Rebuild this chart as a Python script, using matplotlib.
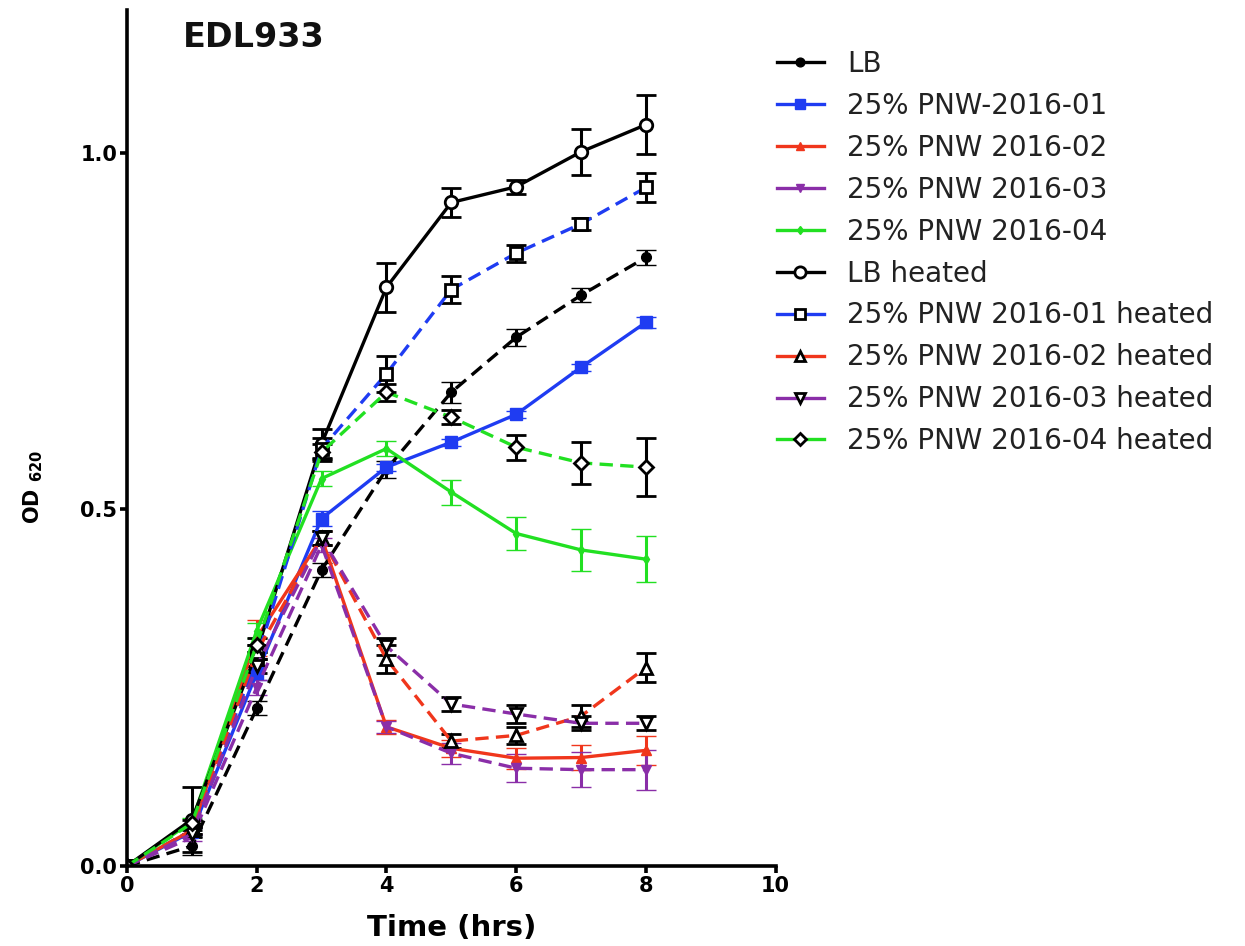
import matplotlib
matplotlib.use("Agg")
import matplotlib.pyplot as plt
from matplotlib.lines import Line2D

plt.rcParams['font.family'] = ['DejaVu Sans']

time_hrs = [0, 1, 2, 3, 4, 5, 6, 7, 8]

lb = [0, 0.028, 0.221, 0.415, 0.556, 0.664, 0.741, 0.800, 0.853]
lb_err = [0, 0.013, 0.01, 0.01, 0.012, 0.015, 0.012, 0.01, 0.01]
pnw01 = [0, 0.048, 0.270, 0.487, 0.559, 0.594, 0.633, 0.699, 0.762]
pnw01_err = [0, 0.005, 0.01, 0.01, 0.005, 0.005, 0.005, 0.005, 0.008]
pnw02 = [0, 0.05, 0.32, 0.46, 0.195, 0.165, 0.151, 0.152, 0.162]
pnw02_err = [0, 0.005, 0.025, 0.01, 0.01, 0.012, 0.015, 0.018, 0.02]
pnw03 = [0, 0.04, 0.25, 0.45, 0.195, 0.158, 0.137, 0.135, 0.135]
pnw03_err = [0, 0.005, 0.01, 0.01, 0.008, 0.015, 0.02, 0.025, 0.028]
pnw04 = [0, 0.062, 0.33, 0.543, 0.585, 0.524, 0.466, 0.443, 0.430]
pnw04_err = [0, 0.005, 0.01, 0.01, 0.01, 0.0175, 0.023, 0.030, 0.032]

lb_h = [0, 0.065, 0.30, 0.592, 0.811, 0.930, 0.952, 1.001, 1.039]
lb_h_err = [0, 0.045, 0.01, 0.02, 0.034, 0.02, 0.01, 0.032, 0.041]
pnw01_h = [0, 0.05, 0.29, 0.585, 0.69, 0.808, 0.859, 0.900, 0.951]
pnw01_h_err = [0, 0.005, 0.01, 0.015, 0.025, 0.019, 0.012, 0.008, 0.02]
pnw02_h = [0, 0.05, 0.30, 0.46, 0.29, 0.175, 0.183, 0.21, 0.278]
pnw02_h_err = [0, 0.005, 0.01, 0.01, 0.02, 0.01, 0.012, 0.015, 0.02]
pnw03_h = [0, 0.045, 0.28, 0.46, 0.308, 0.227, 0.213, 0.200, 0.200]
pnw03_h_err = [0, 0.005, 0.01, 0.01, 0.012, 0.01, 0.012, 0.01, 0.01]
pnw04_h = [0, 0.06, 0.31, 0.58, 0.664, 0.629, 0.587, 0.565, 0.559]
pnw04_h_err = [0, 0.005, 0.01, 0.012, 0.012, 0.01, 0.0175, 0.029, 0.041]

labels = ["LB", "25% PNW-2016-01", "25% PNW 2016-02", "25% PNW 2016-03",
          "25% PNW 2016-04", "LB heated", "25% PNW 2016-01 heated",
          "25% PNW 2016-02 heated", "25% PNW 2016-03 heated",
          "25% PNW 2016-04 heated"]

BLACK = "#000000"
BLUE = "#1f3cf2"
RED = "#f0361c"
PURPLE = "#8a2ea8"
GREEN = "#22e022"

fig = plt.figure(figsize=(12.45, 9.46), dpi=100)
ax = fig.add_axes([0.102, 0.0846, 0.521, 0.905])

lw = 2.4
cs = 7
ct = 2.2
DASH = (0, (4, 2.2))

series = [
    # values, err, color, linestyle, marker, ms, filled
    (lb, lb_err, BLACK, DASH, 'o', 7, True),
    (pnw01, pnw01_err, BLUE, '-', 's', 8, True),
    (pnw02, pnw02_err, RED, '-', '^', 7, True),
    (pnw03, pnw03_err, PURPLE, DASH, 'v', 7, True),
    (pnw04, pnw04_err, GREEN, '-', 'd', 5, True),
    (lb_h, lb_h_err, BLACK, '-', 'o', 9, False),
    (pnw01_h, pnw01_h_err, BLUE, DASH, 's', 8, False),
    (pnw02_h, pnw02_h_err, RED, DASH, '^', 8, False),
    (pnw03_h, pnw03_h_err, PURPLE, DASH, 'v', 8, False),
    (pnw04_h, pnw04_h_err, GREEN, DASH, 'D', 7, False),
]

handles = []
for (vals, err, col, ls, mk, ms, filled), lab in zip(series, labels):
    if filled:
        ecol = col
        mfc = col
        mec = col
    else:
        ecol = BLACK
        mfc = 'white'
        mec = BLACK
    ax.errorbar(time_hrs, vals, yerr=err, color=col, ecolor=ecol,
                elinewidth=ct, capsize=cs, capthick=ct, linestyle=ls,
                linewidth=lw, marker=mk, markersize=ms, markerfacecolor=mfc,
                markeredgecolor=mec, markeredgewidth=2 if not filled else 1)
    handles.append(Line2D([], [], color=col, linestyle='-', linewidth=lw,
                          marker=mk, markersize=ms * 0.9, markerfacecolor=mfc,
                          markeredgecolor=mec, markeredgewidth=2 if not filled else 1))

ax.set_xlim(0, 10)
ax.set_ylim(0, 1.2)
ax.set_xticks([0, 2, 4, 6, 8, 10])
ax.set_yticks([0.0, 0.5, 1.0])
ax.set_yticklabels(["0.0", "0.5", "1.0"])
for s in ['top', 'right']:
    ax.spines[s].set_visible(False)
for s in ['left', 'bottom']:
    ax.spines[s].set_linewidth(2.6)
ax.tick_params(axis='both', direction='out', length=5, width=2.6,
               labelsize=15, pad=2)
for t in ax.get_xticklabels() + ax.get_yticklabels():
    t.set_fontweight('bold')

ax.set_xlabel("Time (hrs)", fontsize=21, fontweight='bold', labelpad=13)
ax.set_ylabel(r"OD $_{\mathbf{620}}$", fontsize=15, fontweight='bold')
ax.yaxis.set_label_coords(-0.127, 0.443)

ax.text(0.86, 1.161, "EDL933", fontsize=24, fontweight='bold',
        va='center', ha='left', color='#111111')

fig.legend(handles, labels, loc='upper left', bbox_to_anchor=(0.624, 0.947),
           frameon=False, fontsize=20, handlelength=1.7, handletextpad=0.82,
           labelspacing=0.5, borderpad=0, borderaxespad=0,
           labelcolor='#222222')

fig.savefig("out.png", dpi=100)
